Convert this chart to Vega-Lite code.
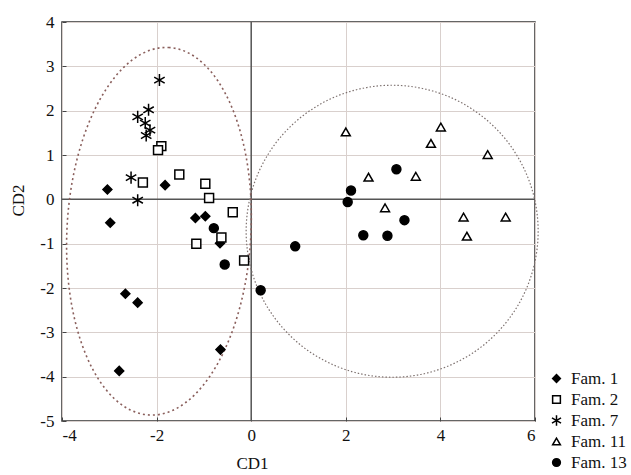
{
  "$schema": "https://vega.github.io/schema/vega-lite/v6.json",
  "width": 473,
  "height": 399,
  "autosize": {"type": "none"},
  "padding": {"left": 62, "top": 22, "right": 96, "bottom": 54},
  "background": "white",
  "config": {
    "view": {"stroke": "#333", "strokeWidth": 1.5},
    "font": "Liberation Serif",
    "axis": {
      "grid": true,
      "labelFont": "Liberation Serif",
      "labelFontSize": 17,
      "labelColor": "#111",
      "labelExpr": "toString(datum.value)",
      "titleFont": "Liberation Serif",
      "titleFontSize": 17,
      "titleFontWeight": "normal",
      "titleColor": "#111",
      "domain": false,
      "tickColor": "#444",
      "tickSize": -4,
      "gridColor": "#d9d0cd",
      "gridWidth": 1,
      "gridOpacity": 1
    }
  },
  "datasets": {
    "pts": [
      {"fam": "Fam. 1", "cd1": -3.04, "cd2": 0.22},
      {"fam": "Fam. 1", "cd1": -1.82, "cd2": 0.32},
      {"fam": "Fam. 1", "cd1": -2.98, "cd2": -0.53},
      {"fam": "Fam. 1", "cd1": -1.18, "cd2": -0.42},
      {"fam": "Fam. 1", "cd1": -0.97, "cd2": -0.38},
      {"fam": "Fam. 1", "cd1": -0.66, "cd2": -0.99},
      {"fam": "Fam. 1", "cd1": -2.66, "cd2": -2.13},
      {"fam": "Fam. 1", "cd1": -2.40, "cd2": -2.33},
      {"fam": "Fam. 1", "cd1": -2.79, "cd2": -3.87},
      {"fam": "Fam. 1", "cd1": -0.65, "cd2": -3.39},
      {"fam": "Fam. 2", "cd1": -1.90, "cd2": 1.20},
      {"fam": "Fam. 2", "cd1": -1.97, "cd2": 1.11},
      {"fam": "Fam. 2", "cd1": -2.29, "cd2": 0.38},
      {"fam": "Fam. 2", "cd1": -1.52, "cd2": 0.56},
      {"fam": "Fam. 2", "cd1": -0.97, "cd2": 0.35},
      {"fam": "Fam. 2", "cd1": -0.89, "cd2": 0.03},
      {"fam": "Fam. 2", "cd1": -0.39, "cd2": -0.29},
      {"fam": "Fam. 2", "cd1": -0.63, "cd2": -0.86},
      {"fam": "Fam. 2", "cd1": -1.16, "cd2": -1.00},
      {"fam": "Fam. 2", "cd1": -0.15, "cd2": -1.38},
      {"fam": "Fam. 7", "cd1": -1.94, "cd2": 2.69},
      {"fam": "Fam. 7", "cd1": -2.17, "cd2": 2.02},
      {"fam": "Fam. 7", "cd1": -2.40, "cd2": 1.86},
      {"fam": "Fam. 7", "cd1": -2.24, "cd2": 1.72},
      {"fam": "Fam. 7", "cd1": -2.14, "cd2": 1.56},
      {"fam": "Fam. 7", "cd1": -2.22, "cd2": 1.44},
      {"fam": "Fam. 7", "cd1": -2.54, "cd2": 0.49},
      {"fam": "Fam. 7", "cd1": -2.40, "cd2": -0.02},
      {"fam": "Fam. 11", "cd1": 2.00, "cd2": 1.52},
      {"fam": "Fam. 11", "cd1": 4.01, "cd2": 1.63},
      {"fam": "Fam. 11", "cd1": 3.80, "cd2": 1.26},
      {"fam": "Fam. 11", "cd1": 5.00, "cd2": 1.01},
      {"fam": "Fam. 11", "cd1": 2.48, "cd2": 0.50},
      {"fam": "Fam. 11", "cd1": 3.48, "cd2": 0.52},
      {"fam": "Fam. 11", "cd1": 2.83, "cd2": -0.19},
      {"fam": "Fam. 11", "cd1": 4.49, "cd2": -0.40},
      {"fam": "Fam. 11", "cd1": 5.38, "cd2": -0.40},
      {"fam": "Fam. 11", "cd1": 4.56, "cd2": -0.83},
      {"fam": "Fam. 13", "cd1": -0.79, "cd2": -0.65},
      {"fam": "Fam. 13", "cd1": -0.56, "cd2": -1.47},
      {"fam": "Fam. 13", "cd1": 0.20, "cd2": -2.05},
      {"fam": "Fam. 13", "cd1": 0.93, "cd2": -1.06},
      {"fam": "Fam. 13", "cd1": 2.11, "cd2": 0.20},
      {"fam": "Fam. 13", "cd1": 2.04, "cd2": -0.06},
      {"fam": "Fam. 13", "cd1": 3.07, "cd2": 0.68},
      {"fam": "Fam. 13", "cd1": 3.24, "cd2": -0.47},
      {"fam": "Fam. 13", "cd1": 2.37, "cd2": -0.81},
      {"fam": "Fam. 13", "cd1": 2.88, "cd2": -0.82}
    ]
  },
  "layer": [
    {
      "data": {"values": [{"cd1": 0}]},
      "mark": {"type": "rule", "color": "#555", "strokeWidth": 1.5},
      "encoding": {
        "x": {"field": "cd1", "type": "quantitative", "scale": {"domain": [-4, 6], "nice": false, "zero": false},
          "axis": {"values": [-4, -2, 0, 2, 4, 6], "grid": true, "title": "CD1", "titleX": 190, "titlePadding": 12, "labelPadding": 10}}
      }
    },
    {
      "data": {"values": [{"cd2": 0}]},
      "mark": {"type": "rule", "color": "#555", "strokeWidth": 1.5},
      "encoding": {
        "y": {"field": "cd2", "type": "quantitative", "scale": {"domain": [-5, 4], "nice": false, "zero": false},
          "axis": {"values": [-5, -4, -3, -2, -1, 0, 1, 2, 3, 4], "grid": true, "title": "CD2", "titleY": 178, "titlePadding": 12, "labelPadding": 12}}
      }
    },
    {
      "data": {"values": [{"cd1": -1.95, "cd2": -0.72}]},
      "mark": {
        "type": "point",
        "shape": "M 0 -2 C 0.5523 -2 1 -1.1046 1 0 C 1 1.1046 0.5523 2 0 2 C -0.5523 2 -1 1.1046 -1 0 C -1 -1.1046 -0.5523 -2 0 -2 Z",
        "size": 33856,
        "angle": 3,
        "filled": false,
        "stroke": "#8a5f5c",
        "strokeWidth": 1.6,
        "strokeDash": [2, 3],
        "opacity": 1
      },
      "encoding": {
        "x": {"field": "cd1", "type": "quantitative"},
        "y": {"field": "cd2", "type": "quantitative"}
      }
    },
    {
      "data": {"values": [{"cd1": 2.98, "cd2": -0.72}]},
      "mark": {
        "type": "point",
        "shape": "circle",
        "size": 85264,
        "filled": false,
        "stroke": "#7d716f",
        "strokeWidth": 1.2,
        "strokeDash": [1.5, 2],
        "opacity": 1
      },
      "encoding": {
        "x": {"field": "cd1", "type": "quantitative"},
        "y": {"field": "cd2", "type": "quantitative"}
      }
    },
    {
      "data": {"name": "pts"},
      "mark": {"type": "point", "filled": true, "size": 80, "stroke": "black", "strokeWidth": 1.5, "opacity": 1},
      "encoding": {
        "x": {"field": "cd1", "type": "quantitative"},
        "y": {"field": "cd2", "type": "quantitative"},
        "shape": {
          "field": "fam", "type": "nominal",
          "scale": {
            "domain": ["Fam. 1", "Fam. 2", "Fam. 7", "Fam. 11", "Fam. 13"],
            "range": ["diamond", "square", "M 0 -1.35 L 0 1.35 M -1.17 -0.68 L 1.17 0.68 M -1.17 0.68 L 1.17 -0.68", "triangle-up", "circle"]
          },
          "legend": {
            "title": null,
            "orient": "none",
            "legendX": 486,
            "legendY": 348,
            "labelFont": "Liberation Serif",
            "labelFontSize": 17,
            "labelColor": "#111",
            "symbolSize": 60,
            "symbolStrokeWidth": 1.5,
            "rowPadding": 3,
            "labelOffset": 6
          }
        },
        "fill": {
          "field": "fam", "type": "nominal",
          "scale": {
            "domain": ["Fam. 1", "Fam. 2", "Fam. 7", "Fam. 11", "Fam. 13"],
            "range": ["black", "white", "white", "white", "black"]
          },
          "legend": {
            "title": null,
            "orient": "none",
            "legendX": 486,
            "legendY": 348,
            "labelFont": "Liberation Serif",
            "labelFontSize": 17,
            "labelColor": "#111",
            "symbolSize": 60,
            "symbolStrokeWidth": 1.5,
            "rowPadding": 3,
            "labelOffset": 6
          }
        }
      }
    }
  ]
}
